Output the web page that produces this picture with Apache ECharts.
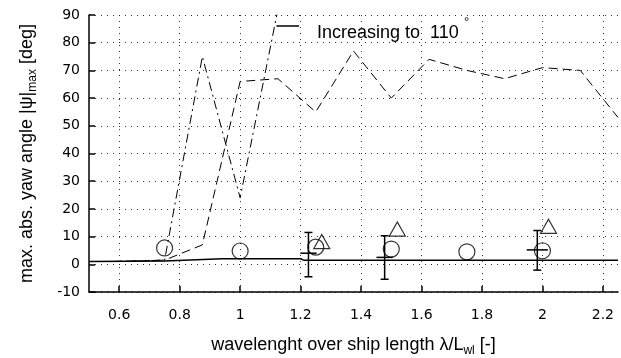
<!DOCTYPE html>
<html>
<head>
<meta charset="utf-8">
<script src="https://cdn.jsdelivr.net/npm/echarts@6/dist/echarts.min.js"></script>
<style>
  html, body { margin: 0; padding: 0; background: #fff; }
  #chart { width: 621px; height: 358px; }
</style>
</head>
<body>
<div id="chart"></div>
<script>
// x tick positions
const xTicks = [0.6, 0.8, 1, 1.2, 1.4, 1.6, 1.8, 2, 2.2]

// solid reference line
const solidX = [0.5, 0.75, 0.94, 1.2, 1.21, 2.25]
const solidY = [1, 1.2, 2, 2, 1.5, 1.5]

// dash-dot series (runs off the top, increasing to 110 deg)
const dashDotX = [0.58, 0.75, 0.875, 1.0, 1.125]
const dashDotY = [1, 1.5, 75, 24, 92]

// dashed series
const dashX = [0.58, 0.75, 0.875, 1.0, 1.125, 1.25, 1.375, 1.5, 1.625, 1.75, 1.875, 2.0, 2.125, 2.25]
const dashY = [1, 1.5, 7, 66, 67, 55, 77, 60, 74, 70, 67, 71, 70, 53]

// pointer next to the annotation
const pointerX = [1.12, 1.195]
const pointerY = [86, 86]

// circle markers
const circX = [0.75, 1.0, 1.25, 1.5, 1.75, 2.0]
const circY = [5.9, 4.8, 6.2, 5.5, 4.5, 4.9]

// triangle markers
const triX = [1.27, 1.52, 2.02]
const triY = [8.2, 12.7, 13.7]

// error bars
const errX = [1.226, 1.478, 1.983]
const errLo = [-4.5, -5.4, -2.1]
const errHi = [11.5, 10.3, 12.2]
const errMid = [4, 2.5, 5.2]
const errDx = [0.027, 0.027, 0.035]

const pairs = (xs, ys) => xs.map((x, i) => [x, ys[i]])

const FONT = 'Liberation Sans'
const TICK_FONT = 'DejaVu Sans'
const chart = echarts.init(document.getElementById('chart'))

const option = {
  backgroundColor: '#fff',
  animation: false,
  grid: { left: 89, top: 15, right: 3, bottom: 66, outerBoundsMode: 'none', containLabel: false },
  xAxis: {
    type: 'value',
    min: 0.5,
    max: 2.25,
    name: '{t|wavelenght over ship length λ/L}{s|wl}{t| [-]}',
    nameLocation: 'middle',
    nameGap: 41,
    nameTextStyle: {
      rich: {
        t: { fontFamily: FONT, fontSize: 18, color: '#000', lineHeight: 24 },
        s: { fontFamily: FONT, fontSize: 12, color: '#000', lineHeight: 12, verticalAlign: 'bottom' }
      }
    },
    axisLine: { onZero: false, lineStyle: { color: '#000', width: 1.5 } },
    axisTick: { inside: true, length: 6, customValues: xTicks, lineStyle: { color: '#000', width: 1.5 } },
    axisLabel: { customValues: xTicks, color: '#000', fontFamily: TICK_FONT, fontSize: 14, margin: 16 },
    splitLine: { show: true, lineStyle: { color: '#333', type: [1, 5], width: 1 } }
  },
  yAxis: {
    type: 'value',
    min: -10,
    max: 90,
    interval: 10,
    name: '{t|max. abs. yaw angle |ψ|}{s|max}{t| [deg]}',
    nameLocation: 'middle',
    nameGap: 50,
    nameTextStyle: {
      rich: {
        t: { fontFamily: FONT, fontSize: 18, color: '#000', lineHeight: 24 },
        s: { fontFamily: FONT, fontSize: 12, color: '#000', lineHeight: 12, verticalAlign: 'bottom' }
      }
    },
    axisLine: { show: true, onZero: false, lineStyle: { color: '#000', width: 1.5 } },
    axisTick: { show: true, inside: true, length: 6, lineStyle: { color: '#000', width: 1.5 } },
    axisLabel: { color: '#000', fontFamily: TICK_FONT, fontSize: 14, margin: 9 },
    splitLine: { show: true, lineStyle: { color: '#333', type: [1, 5], width: 1 } }
  },
  graphic: [
    {
      type: 'text', left: 317, top: 24,
      style: { text: 'Increasing to  110', font: '18px "Liberation Sans"', fill: '#000' }
    },
    {
      type: 'text', left: 464, top: 16,
      style: { text: '°', font: '13px "Liberation Sans"', fill: '#000' }
    }
  ],
  series: [
    {
      type: 'line', data: pairs(solidX, solidY), symbol: 'none',
      lineStyle: { color: '#000', width: 1.5 }
    },
    {
      type: 'line', data: pairs(dashDotX, dashDotY), symbol: 'none',
      lineStyle: { color: '#000', width: 1, type: [9, 4, 2, 4] }
    },
    {
      type: 'line', data: pairs(dashX, dashY), symbol: 'none',
      lineStyle: { color: '#000', width: 1, type: [9, 5] }
    },
    {
      type: 'line', data: pairs(pointerX, pointerY), symbol: 'none',
      lineStyle: { color: '#000', width: 1.5 }
    },
    {
      type: 'custom',
      data: errX.map((x, i) => [x, errLo[i], errHi[i], errMid[i], errDx[i]]),
      renderItem: (params, api) => {
        const x = api.value(0)
        const top = api.coord([x, api.value(2)])
        const bot = api.coord([x, api.value(1)])
        const l = api.coord([x - api.value(4), api.value(3)])
        const r = api.coord([x + api.value(4), api.value(3)])
        const cap = 4
        const style = { stroke: '#000', lineWidth: 1.5 }
        return {
          type: 'group',
          children: [
            { type: 'line', shape: { x1: top[0], y1: top[1], x2: bot[0], y2: bot[1] }, style },
            { type: 'line', shape: { x1: top[0] - cap, y1: top[1], x2: top[0] + cap, y2: top[1] }, style },
            { type: 'line', shape: { x1: bot[0] - cap, y1: bot[1], x2: bot[0] + cap, y2: bot[1] }, style },
            { type: 'line', shape: { x1: l[0], y1: l[1], x2: r[0], y2: r[1] }, style }
          ]
        }
      }
    },
    {
      type: 'scatter', data: pairs(circX, circY), symbol: 'circle', symbolSize: 16,
      itemStyle: { color: 'transparent', borderColor: '#000', borderWidth: 1.2 }
    },
    {
      type: 'scatter', data: pairs(triX, triY), symbol: 'triangle', symbolSize: [16, 14],
      itemStyle: { color: 'transparent', borderColor: '#000', borderWidth: 1.2 }
    }
  ]
}

chart.setOption(option)
</script>
</body>
</html>
